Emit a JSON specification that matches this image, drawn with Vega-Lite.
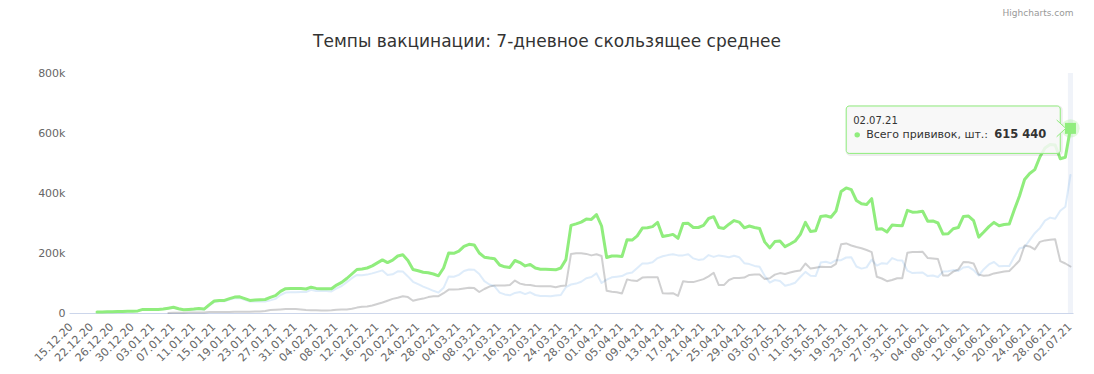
{
  "$schema": "https://vega.github.io/schema/vega-lite/v6.json",
  "width": 1004,
  "height": 240,
  "autosize": {"type": "none"},
  "padding": {"left": 69, "top": 73, "right": 21, "bottom": 61},
  "background": "#ffffff",
  "title": {
    "text": "Темпы вакцинации: 7-дневное скользящее среднее",
    "fontSize": 17,
    "font": "DejaVu Sans",
    "fontWeight": "normal",
    "color": "#333333",
    "anchor": "middle",
    "baseline": "alphabetic",
    "dx": -24,
    "dy": 55,
    "offset": 0
  },
  "config": {
    "font": "DejaVu Sans",
    "view": {"stroke": null},
    "axisX": {
      "domainColor": "#ccd6eb",
      "domainWidth": 1,
      "ticks": false,
      "grid": false,
      "labelAngle": -45,
      "labelAlign": "right",
      "labelBaseline": "alphabetic",
      "labelPadding": 14,
      "labelOffset": 1.5,
      "labelColor": "#666666",
      "labelFontSize": 11,
      "labelFont": "DejaVu Sans",
      "labelOverlap": false,
      "labelBound": false,
      "labelFlush": false,
      "title": null,
      "zindex": 1
    },
    "axisY": {
      "domain": false,
      "ticks": false,
      "gridColor": "#e6e6e6",
      "gridWidth": 1,
      "labelColor": "#666666",
      "labelFontSize": 11,
      "labelFont": "DejaVu Sans",
      "labelPadding": 4,
      "labelBaseline": "middle",
      "title": null
    }
  },
  "data": {
    "values": [
      {"d": "2020-12-15"}, {"d": "2020-12-19"}, {"d": "2020-12-20"}, {"d": "2020-12-21"}, {"d": "2020-12-22"},
      {"d": "2020-12-23", "g": 3000, "b": 3000},
      {"d": "2020-12-24", "g": 3000, "b": 3000},
      {"d": "2020-12-25", "g": 4000, "b": 4000},
      {"d": "2020-12-26", "g": 4000, "b": 4000},
      {"d": "2020-12-27", "g": 5000, "b": 5000},
      {"d": "2020-12-28", "g": 5000, "b": 5000},
      {"d": "2020-12-29", "g": 6000, "b": 6000},
      {"d": "2020-12-30", "g": 6000, "b": 6000},
      {"d": "2020-12-31", "g": 7000, "b": 7000},
      {"d": "2021-01-01", "g": 12000, "b": 12000},
      {"d": "2021-01-02", "g": 12000, "b": 12000},
      {"d": "2021-01-03", "g": 12000, "b": 12000},
      {"d": "2021-01-04", "g": 12000, "b": 12000},
      {"d": "2021-01-05", "g": 13000, "b": 13000},
      {"d": "2021-01-06", "g": 16000, "b": 16000, "k": 0},
      {"d": "2021-01-07", "g": 19000, "b": 18000, "k": 1000},
      {"d": "2021-01-08", "g": 14000, "b": 13000, "k": 1000},
      {"d": "2021-01-09", "g": 11000, "b": 10000, "k": 1000},
      {"d": "2021-01-10", "g": 12000, "b": 10000, "k": 2000},
      {"d": "2021-01-11", "g": 13000, "b": 11000, "k": 2000},
      {"d": "2021-01-12", "g": 15000, "b": 13000, "k": 2000},
      {"d": "2021-01-13", "g": 13000, "b": 11000, "k": 2000},
      {"d": "2021-01-14", "g": 27000, "b": 24000, "k": 3000},
      {"d": "2021-01-15", "g": 40000, "b": 37000, "k": 3000},
      {"d": "2021-01-16", "g": 42000, "b": 39000, "k": 3000},
      {"d": "2021-01-17", "g": 42000, "b": 39000, "k": 3000},
      {"d": "2021-01-18", "g": 48000, "b": 45000, "k": 3000},
      {"d": "2021-01-19", "g": 53000, "b": 49000, "k": 4000},
      {"d": "2021-01-20", "g": 54000, "b": 50000, "k": 4000},
      {"d": "2021-01-21", "g": 48000, "b": 44000, "k": 4000},
      {"d": "2021-01-22", "g": 42000, "b": 38000, "k": 4000},
      {"d": "2021-01-23", "g": 43000, "b": 38000, "k": 5000},
      {"d": "2021-01-24", "g": 44000, "b": 39000, "k": 5000},
      {"d": "2021-01-25", "g": 45000, "b": 38000, "k": 7000},
      {"d": "2021-01-26", "g": 52000, "b": 42000, "k": 10000},
      {"d": "2021-01-27", "g": 58000, "b": 47000, "k": 11000},
      {"d": "2021-01-28", "g": 72000, "b": 60000, "k": 12000},
      {"d": "2021-01-29", "g": 81000, "b": 68000, "k": 13000},
      {"d": "2021-01-30", "g": 82000, "b": 69000, "k": 13000},
      {"d": "2021-01-31", "g": 82000, "b": 69000, "k": 13000},
      {"d": "2021-02-01", "g": 82000, "b": 70000, "k": 12000},
      {"d": "2021-02-02", "g": 80000, "b": 70000, "k": 10000},
      {"d": "2021-02-03", "g": 86000, "b": 77000, "k": 9000},
      {"d": "2021-02-04", "g": 82000, "b": 73000, "k": 9000},
      {"d": "2021-02-05", "g": 81000, "b": 73000, "k": 8000},
      {"d": "2021-02-06", "g": 81000, "b": 73000, "k": 8000},
      {"d": "2021-02-07", "g": 81000, "b": 72000, "k": 9000},
      {"d": "2021-02-08", "g": 93000, "b": 82000, "k": 11000},
      {"d": "2021-02-09", "g": 102000, "b": 90000, "k": 12000},
      {"d": "2021-02-10", "g": 115000, "b": 103000, "k": 12000},
      {"d": "2021-02-11", "g": 130000, "b": 116000, "k": 14000},
      {"d": "2021-02-12", "g": 145000, "b": 127000, "k": 18000},
      {"d": "2021-02-13", "g": 147000, "b": 126000, "k": 21000},
      {"d": "2021-02-14", "g": 150000, "b": 128000, "k": 22000},
      {"d": "2021-02-15", "g": 157000, "b": 132000, "k": 25000},
      {"d": "2021-02-16", "g": 167000, "b": 137000, "k": 30000},
      {"d": "2021-02-17", "g": 177000, "b": 142000, "k": 35000},
      {"d": "2021-02-18", "g": 168000, "b": 127000, "k": 41000},
      {"d": "2021-02-19", "g": 176000, "b": 129000, "k": 47000},
      {"d": "2021-02-20", "g": 190000, "b": 139000, "k": 51000},
      {"d": "2021-02-21", "g": 194000, "b": 138000, "k": 56000},
      {"d": "2021-02-22", "g": 175000, "b": 122000, "k": 53000},
      {"d": "2021-02-23", "g": 145000, "b": 104000, "k": 41000},
      {"d": "2021-02-24", "g": 141000, "b": 96000, "k": 45000},
      {"d": "2021-02-25", "g": 136000, "b": 88000, "k": 48000},
      {"d": "2021-02-26", "g": 134000, "b": 81000, "k": 53000},
      {"d": "2021-02-27", "g": 130000, "b": 74000, "k": 56000},
      {"d": "2021-02-28", "g": 124000, "b": 68000, "k": 56000},
      {"d": "2021-03-01", "g": 150000, "b": 84000, "k": 66000},
      {"d": "2021-03-02", "g": 200000, "b": 122000, "k": 78000},
      {"d": "2021-03-03", "g": 199000, "b": 121000, "k": 78000},
      {"d": "2021-03-04", "g": 206000, "b": 127000, "k": 79000},
      {"d": "2021-03-05", "g": 222000, "b": 140000, "k": 82000},
      {"d": "2021-03-06", "g": 229000, "b": 145000, "k": 84000},
      {"d": "2021-03-07", "g": 227000, "b": 144000, "k": 83000},
      {"d": "2021-03-08", "g": 200000, "b": 130000, "k": 70000},
      {"d": "2021-03-09", "g": 186000, "b": 106000, "k": 80000},
      {"d": "2021-03-10", "g": 183000, "b": 95000, "k": 88000},
      {"d": "2021-03-11", "g": 181000, "b": 89000, "k": 92000},
      {"d": "2021-03-12", "g": 160000, "b": 68000, "k": 92000},
      {"d": "2021-03-13", "g": 154000, "b": 62000, "k": 92000},
      {"d": "2021-03-14", "g": 152000, "b": 59000, "k": 93000},
      {"d": "2021-03-15", "g": 175000, "b": 67000, "k": 108000},
      {"d": "2021-03-16", "g": 168000, "b": 70000, "k": 98000},
      {"d": "2021-03-17", "g": 157000, "b": 63000, "k": 94000},
      {"d": "2021-03-18", "g": 162000, "b": 69000, "k": 93000},
      {"d": "2021-03-19", "g": 150000, "b": 60000, "k": 90000},
      {"d": "2021-03-20", "g": 146000, "b": 57000, "k": 89000},
      {"d": "2021-03-21", "g": 146000, "b": 57000, "k": 89000},
      {"d": "2021-03-22", "g": 145000, "b": 56000, "k": 89000},
      {"d": "2021-03-23", "g": 144000, "b": 58000, "k": 86000},
      {"d": "2021-03-24", "g": 150000, "b": 60000, "k": 90000},
      {"d": "2021-03-25", "g": 178000, "b": 86000, "k": 92000},
      {"d": "2021-03-26", "g": 292000, "b": 95000, "k": 197000},
      {"d": "2021-03-27", "g": 297000, "b": 98000, "k": 199000},
      {"d": "2021-03-28", "g": 303000, "b": 104000, "k": 199000},
      {"d": "2021-03-29", "g": 313000, "b": 116000, "k": 197000},
      {"d": "2021-03-30", "g": 312000, "b": 120000, "k": 192000},
      {"d": "2021-03-31", "g": 328000, "b": 132000, "k": 196000},
      {"d": "2021-04-01", "g": 290000, "b": 100000, "k": 190000},
      {"d": "2021-04-02", "g": 185000, "b": 111000, "k": 74000},
      {"d": "2021-04-03", "g": 190000, "b": 119000, "k": 71000},
      {"d": "2021-04-04", "g": 190000, "b": 121000, "k": 69000},
      {"d": "2021-04-05", "g": 188000, "b": 123000, "k": 65000},
      {"d": "2021-04-06", "g": 244000, "b": 132000, "k": 112000},
      {"d": "2021-04-07", "g": 243000, "b": 135000, "k": 108000},
      {"d": "2021-04-08", "g": 257000, "b": 150000, "k": 107000},
      {"d": "2021-04-09", "g": 283000, "b": 165000, "k": 118000},
      {"d": "2021-04-10", "g": 284000, "b": 165000, "k": 119000},
      {"d": "2021-04-11", "g": 288000, "b": 169000, "k": 119000},
      {"d": "2021-04-12", "g": 302000, "b": 183000, "k": 119000},
      {"d": "2021-04-13", "g": 255000, "b": 189000, "k": 66000},
      {"d": "2021-04-14", "g": 258000, "b": 193000, "k": 65000},
      {"d": "2021-04-15", "g": 262000, "b": 196000, "k": 66000},
      {"d": "2021-04-16", "g": 249000, "b": 192000, "k": 57000},
      {"d": "2021-04-17", "g": 298000, "b": 192000, "k": 106000},
      {"d": "2021-04-18", "g": 299000, "b": 196000, "k": 103000},
      {"d": "2021-04-19", "g": 285000, "b": 182000, "k": 103000},
      {"d": "2021-04-20", "g": 285000, "b": 177000, "k": 108000},
      {"d": "2021-04-21", "g": 292000, "b": 179000, "k": 113000},
      {"d": "2021-04-22", "g": 315000, "b": 193000, "k": 122000},
      {"d": "2021-04-23", "g": 321000, "b": 187000, "k": 134000},
      {"d": "2021-04-24", "g": 285000, "b": 192000, "k": 93000},
      {"d": "2021-04-25", "g": 282000, "b": 189000, "k": 93000},
      {"d": "2021-04-26", "g": 296000, "b": 186000, "k": 110000},
      {"d": "2021-04-27", "g": 308000, "b": 191000, "k": 117000},
      {"d": "2021-04-28", "g": 303000, "b": 186000, "k": 117000},
      {"d": "2021-04-29", "g": 284000, "b": 166000, "k": 118000},
      {"d": "2021-04-30", "g": 290000, "b": 163000, "k": 127000},
      {"d": "2021-05-01", "g": 285000, "b": 157000, "k": 128000},
      {"d": "2021-05-02", "g": 282000, "b": 154000, "k": 128000},
      {"d": "2021-05-03", "g": 237000, "b": 124000, "k": 113000},
      {"d": "2021-05-04", "g": 217000, "b": 101000, "k": 116000},
      {"d": "2021-05-05", "g": 238000, "b": 110000, "k": 128000},
      {"d": "2021-05-06", "g": 240000, "b": 107000, "k": 133000},
      {"d": "2021-05-07", "g": 221000, "b": 91000, "k": 130000},
      {"d": "2021-05-08", "g": 230000, "b": 95000, "k": 135000},
      {"d": "2021-05-09", "g": 240000, "b": 101000, "k": 139000},
      {"d": "2021-05-10", "g": 262000, "b": 120000, "k": 142000},
      {"d": "2021-05-11", "g": 302000, "b": 137000, "k": 165000},
      {"d": "2021-05-12", "g": 272000, "b": 124000, "k": 148000},
      {"d": "2021-05-13", "g": 274000, "b": 123000, "k": 151000},
      {"d": "2021-05-14", "g": 322000, "b": 168000, "k": 154000},
      {"d": "2021-05-15", "g": 324000, "b": 171000, "k": 153000},
      {"d": "2021-05-16", "g": 319000, "b": 166000, "k": 153000},
      {"d": "2021-05-17", "g": 340000, "b": 176000, "k": 164000},
      {"d": "2021-05-18", "g": 405000, "b": 176000, "k": 229000},
      {"d": "2021-05-19", "g": 417000, "b": 185000, "k": 232000},
      {"d": "2021-05-20", "g": 411000, "b": 186000, "k": 225000},
      {"d": "2021-05-21", "g": 375000, "b": 155000, "k": 220000},
      {"d": "2021-05-22", "g": 364000, "b": 148000, "k": 216000},
      {"d": "2021-05-23", "g": 362000, "b": 152000, "k": 210000},
      {"d": "2021-05-24", "g": 381000, "b": 178000, "k": 203000},
      {"d": "2021-05-25", "g": 279000, "b": 158000, "k": 121000},
      {"d": "2021-05-26", "g": 281000, "b": 166000, "k": 115000},
      {"d": "2021-05-27", "g": 270000, "b": 164000, "k": 106000},
      {"d": "2021-05-28", "g": 293000, "b": 183000, "k": 110000},
      {"d": "2021-05-29", "g": 292000, "b": 176000, "k": 116000},
      {"d": "2021-05-30", "g": 291000, "b": 175000, "k": 116000},
      {"d": "2021-05-31", "g": 342000, "b": 141000, "k": 201000},
      {"d": "2021-06-01", "g": 336000, "b": 133000, "k": 203000},
      {"d": "2021-06-02", "g": 337000, "b": 134000, "k": 203000},
      {"d": "2021-06-03", "g": 339000, "b": 135000, "k": 204000},
      {"d": "2021-06-04", "g": 306000, "b": 123000, "k": 183000},
      {"d": "2021-06-05", "g": 307000, "b": 125000, "k": 182000},
      {"d": "2021-06-06", "g": 300000, "b": 120000, "k": 180000},
      {"d": "2021-06-07", "g": 263000, "b": 138000, "k": 125000},
      {"d": "2021-06-08", "g": 264000, "b": 139000, "k": 125000},
      {"d": "2021-06-09", "g": 281000, "b": 143000, "k": 138000},
      {"d": "2021-06-10", "g": 285000, "b": 140000, "k": 145000},
      {"d": "2021-06-11", "g": 322000, "b": 152000, "k": 170000},
      {"d": "2021-06-12", "g": 323000, "b": 154000, "k": 169000},
      {"d": "2021-06-13", "g": 308000, "b": 143000, "k": 165000},
      {"d": "2021-06-14", "g": 253000, "b": 125000, "k": 128000},
      {"d": "2021-06-15", "g": 270000, "b": 146000, "k": 124000},
      {"d": "2021-06-16", "g": 288000, "b": 162000, "k": 126000},
      {"d": "2021-06-17", "g": 302000, "b": 170000, "k": 132000},
      {"d": "2021-06-18", "g": 291000, "b": 156000, "k": 135000},
      {"d": "2021-06-19", "g": 295000, "b": 157000, "k": 138000},
      {"d": "2021-06-20", "g": 297000, "b": 157000, "k": 140000},
      {"d": "2021-06-21", "g": 345000, "b": 188000, "k": 157000},
      {"d": "2021-06-22", "g": 390000, "b": 215000, "k": 175000},
      {"d": "2021-06-23", "g": 445000, "b": 220000, "k": 225000},
      {"d": "2021-06-24", "g": 465000, "b": 243000, "k": 222000},
      {"d": "2021-06-25", "g": 478000, "b": 266000, "k": 212000},
      {"d": "2021-06-26", "g": 520000, "b": 283000, "k": 237000},
      {"d": "2021-06-27", "g": 550000, "b": 308000, "k": 242000},
      {"d": "2021-06-28", "g": 562000, "b": 318000, "k": 244000},
      {"d": "2021-06-29", "g": 560000, "b": 314000, "k": 246000},
      {"d": "2021-06-30", "g": 514000, "b": 341000, "k": 173000},
      {"d": "2021-07-01", "g": 519000, "b": 354000, "k": 165000},
      {"d": "2021-07-02", "g": 615440, "b": 460000, "k": 155000}
    ]
  },
  "encoding": {
    "x": {
      "field": "d",
      "type": "ordinal",
      "title": null,
      "scale": {"type": "point", "padding": 0.5},
      "axis": {
        "values": ["2020-12-15", "2020-12-22", "2020-12-26", "2020-12-30", "2021-01-03", "2021-01-07", "2021-01-11", "2021-01-15", "2021-01-19", "2021-01-23", "2021-01-27", "2021-01-31", "2021-02-04", "2021-02-08", "2021-02-12", "2021-02-16", "2021-02-20", "2021-02-24", "2021-02-28", "2021-03-04", "2021-03-08", "2021-03-12", "2021-03-16", "2021-03-20", "2021-03-24", "2021-03-28", "2021-04-01", "2021-04-05", "2021-04-09", "2021-04-13", "2021-04-17", "2021-04-21", "2021-04-25", "2021-04-29", "2021-05-03", "2021-05-07", "2021-05-11", "2021-05-15", "2021-05-19", "2021-05-23", "2021-05-27", "2021-05-31", "2021-06-04", "2021-06-08", "2021-06-12", "2021-06-16", "2021-06-20", "2021-06-24", "2021-06-28", "2021-07-02"],
        "labelExpr": "slice(datum.value, 8, 10) + '.' + slice(datum.value, 5, 7) + '.' + slice(datum.value, 2, 4)"
      }
    }
  },
  "layer": [
    {
      "data": {"values": [{}]},
      "mark": {"type": "rule", "stroke": "#ccd6eb", "strokeOpacity": 0.3, "strokeWidth": 5},
      "encoding": {
        "x": {"datum": "2021-07-02", "type": "ordinal"},
        "y": {"datum": 0, "type": "quantitative"},
        "y2": {"datum": 800000}
      }
    },
    {
      "mark": {"type": "line", "stroke": "#7cb5ec", "strokeOpacity": 0.25, "strokeWidth": 2, "strokeJoin": "round", "strokeCap": "round"},
      "encoding": {
        "y": {
          "field": "b",
          "type": "quantitative",
          "title": null,
          "scale": {"domain": [0, 800000], "nice": false, "zero": true},
          "axis": {
            "values": [0, 200000, 400000, 600000, 800000],
            "labelExpr": "datum.value == 0 ? '0' : (datum.value / 1000) + 'k'"
          }
        }
      }
    },
    {
      "mark": {"type": "line", "stroke": "#434348", "strokeOpacity": 0.25, "strokeWidth": 2, "strokeJoin": "round", "strokeCap": "round"},
      "encoding": {"y": {"field": "k", "type": "quantitative", "title": null}}
    },
    {
      "mark": {"type": "line", "stroke": "#90ed7d", "strokeWidth": 3, "strokeJoin": "round", "strokeCap": "round"},
      "encoding": {"y": {"field": "g", "type": "quantitative", "title": null}}
    },
    {
      "transform": [{"filter": "datum.d == '2021-07-02'"}],
      "mark": {"type": "point", "shape": "circle", "filled": true, "fill": "#90ed7d", "fillOpacity": 0.25, "size": 340, "strokeWidth": 0},
      "encoding": {"y": {"field": "g", "type": "quantitative", "title": null}}
    },
    {
      "transform": [{"filter": "datum.d == '2021-07-02'"}],
      "mark": {"type": "point", "shape": "square", "filled": true, "fill": "#90ed7d", "fillOpacity": 1, "size": 121, "strokeWidth": 0},
      "encoding": {"y": {"field": "g", "type": "quantitative", "title": null}}
    },
    {
      "data": {"values": [{}]},
      "mark": {"type": "rect", "filled": false, "stroke": "#000000", "strokeOpacity": 0.07, "strokeWidth": 3, "cornerRadius": 3, "xOffset": 1, "x2Offset": 1, "yOffset": 1, "y2Offset": 1},
      "encoding": {
        "x": {"datum": "2021-05-19", "type": "ordinal"},
        "x2": {"datum": "2021-06-30"},
        "y": {"datum": 532000, "type": "quantitative"},
        "y2": {"datum": 690000}
      }
    },
    {
      "data": {"values": [{}]},
      "mark": {"type": "rect", "fill": "#f7f7f7", "fillOpacity": 0.85, "stroke": "#90ed7d", "strokeWidth": 1, "cornerRadius": 3},
      "encoding": {
        "x": {"datum": "2021-05-19", "type": "ordinal"},
        "x2": {"datum": "2021-06-30"},
        "y": {"datum": 532000, "type": "quantitative"},
        "y2": {"datum": 690000}
      }
    },
    {
      "data": {"values": [{}]},
      "mark": {"type": "point", "shape": "M-0.3,-1.2L1,0L-0.3,1.2", "size": 196, "filled": true, "fill": "#f7f7f7", "fillOpacity": 1, "stroke": "#90ed7d", "strokeWidth": 1, "strokeOpacity": 1, "xOffset": -1.5},
      "encoding": {
        "x": {"datum": "2021-06-30", "type": "ordinal"},
        "y": {"datum": 615440, "type": "quantitative"}
      }
    },
    {
      "data": {"values": [{}]},
      "mark": {"type": "text", "text": "02.07.21", "align": "left", "baseline": "alphabetic", "fontSize": 10, "fill": "#333333", "xOffset": 7, "yOffset": -4},
      "encoding": {
        "x": {"datum": "2021-05-19", "type": "ordinal"},
        "y": {"datum": 615440, "type": "quantitative"}
      }
    },
    {
      "data": {"values": [{}]},
      "mark": {"type": "point", "shape": "circle", "filled": true, "fill": "#90ed7d", "fillOpacity": 1, "size": 30, "strokeWidth": 0, "xOffset": 11, "yOffset": 6.5},
      "encoding": {
        "x": {"datum": "2021-05-19", "type": "ordinal"},
        "y": {"datum": 615440, "type": "quantitative"}
      }
    },
    {
      "data": {"values": [{}]},
      "mark": {"type": "text", "text": "Всего прививок, шт.: ", "align": "left", "baseline": "alphabetic", "fontSize": 11, "fill": "#333333", "xOffset": 20, "yOffset": 9.5},
      "encoding": {
        "x": {"datum": "2021-05-19", "type": "ordinal"},
        "y": {"datum": 615440, "type": "quantitative"}
      }
    },
    {
      "data": {"values": [{}]},
      "mark": {"type": "text", "text": "615 440", "align": "right", "baseline": "alphabetic", "fontSize": 11.5, "fontWeight": "bold", "fill": "#333333", "xOffset": 200, "yOffset": 9.5},
      "encoding": {
        "x": {"datum": "2021-05-19", "type": "ordinal"},
        "y": {"datum": 615440, "type": "quantitative"}
      }
    },
    {
      "data": {"values": [{}]},
      "mark": {"type": "text", "text": "Highcharts.com", "align": "right", "baseline": "alphabetic", "fontSize": 9, "fill": "#999999", "xOffset": 3, "yOffset": -57},
      "encoding": {
        "x": {"datum": "2021-07-02", "type": "ordinal"},
        "y": {"datum": 800000, "type": "quantitative"}
      }
    }
  ]
}
